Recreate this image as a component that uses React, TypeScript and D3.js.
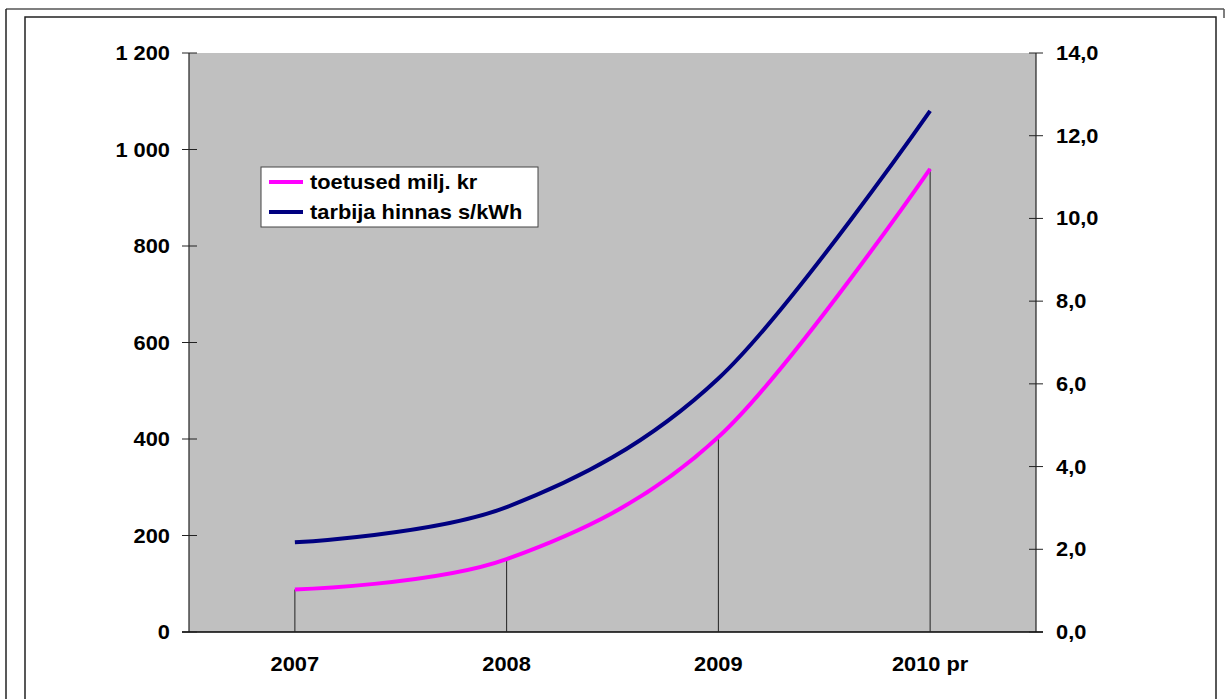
import React from "react";
import * as d3 from "d3";

const categories = ["2007", "2008", "2009", "2010 pr"];
const toetused = [88, 151, 404, 960];
const hinnas = [2.17, 3.02, 6.13, 12.6];
const leftTicks = [0, 200, 400, 600, 800, 1000, 1200];
const rightTicks = [0, 2, 4, 6, 8, 10, 12, 14];
const seriesNames = ["toetused milj. kr", "tarbija hinnas s/kWh"];

const W = 1228;
const H = 699;
const L = 189, R = 1036, T = 53, B = 632;
const FONT = "'Liberation Sans', Arial, sans-serif";
const SX = 1.12;

const textStyle: React.CSSProperties = {
  fontFamily: FONT,
  fontWeight: "bold",
  fontSize: 19.5,
};

function T2({ x, y, anchor, dy, children }: { x: number; y: number; anchor?: string; dy?: string; children: React.ReactNode }) {
  return (
    <text
      transform={`translate(${x},${y}) scale(${SX},1)`}
      dy={dy}
      textAnchor={anchor || "start"}
      style={textStyle}
      fill="#000"
    >
      {children}
    </text>
  );
}

export default function App() {
  const x = d3.scaleBand<string>().domain(categories).range([L, R]);
  const cx = (c: string) => (x(c) as number) + x.bandwidth() / 2;
  const yL = d3.scaleLinear().domain([0, 1200]).range([B, T]);
  const yR = d3.scaleLinear().domain([0, 14]).range([B, T]);
  const fmtL = (v: number) => d3.format(",")(v).replace(/,/g, " ");
  const fmtR = (v: number) => v.toFixed(1).replace(".", ",");

  const curve = d3.curveCatmullRom.alpha(0);
  const pinkLine = d3
    .line<number>()
    .x((_, i) => cx(categories[i]))
    .y((d) => yL(d))
    .curve(curve)(toetused) as string;
  const navyLine = d3
    .line<number>()
    .x((_, i) => cx(categories[i]))
    .y((d) => yR(d))
    .curve(curve)(hinnas) as string;

  return (
    <svg
      width={W}
      height={H}
      style={{ position: "absolute", left: 0, top: 0, background: "#fff" }}
    >
      {/* outer frame */}
      <line x1={6} y1={9} x2={1224} y2={9} stroke="#555" strokeWidth={1.5} />
      <line x1={6} y1={9} x2={6} y2={H} stroke="#222" strokeWidth={1.5} />
      <line x1={1224} y1={9} x2={1224} y2={18} stroke="#555" strokeWidth={1.5} />
      {/* inner frame */}
      <rect x={25} y={17} width={1191} height={H} fill="none" stroke="#222" strokeWidth={1.5} />

      {/* plot area */}
      <rect x={L} y={T} width={R - L} height={B - T} fill="#c0c0c0" />
      <line x1={L} y1={T} x2={L} y2={B} stroke="#222" strokeWidth={1.2} />
      <line x1={R} y1={T} x2={R} y2={B} stroke="#222" strokeWidth={1.2} />
      <line x1={182} y1={B} x2={1043} y2={B} stroke="#000" strokeWidth={1.5} />

      {/* left axis */}
      {leftTicks.map((t) => (
        <g key={"l" + t}>
          <line x1={182} x2={197} y1={yL(t)} y2={yL(t)} stroke="#222" strokeWidth={1} />
          <T2 x={170} y={yL(t)} dy="0.36em" anchor="end">
            {fmtL(t)}
          </T2>
        </g>
      ))}
      {/* right axis */}
      {rightTicks.map((t) => (
        <g key={"r" + t}>
          <line x1={1029} x2={1043} y1={yR(t)} y2={yR(t)} stroke="#222" strokeWidth={1} />
          <T2 x={1056} y={yR(t)} dy="0.36em">
            {fmtR(t)}
          </T2>
        </g>
      ))}
      {/* x labels */}
      {categories.map((c) => (
        <T2 key={c} x={cx(c)} y={671} anchor="middle">
          {c}
        </T2>
      ))}

      {/* drop lines */}
      {toetused.map((v, i) => (
        <line
          key={"d" + i}
          x1={cx(categories[i])}
          x2={cx(categories[i])}
          y1={yL(v)}
          y2={B}
          stroke="#222"
          strokeWidth={1}
        />
      ))}

      {/* series */}
      <path d={navyLine} fill="none" stroke="#000080" strokeWidth={4} />
      <path d={pinkLine} fill="none" stroke="#ff00ff" strokeWidth={4} />

      {/* legend */}
      <rect x={261} y={167} width={277} height={60} fill="#fff" stroke="#444" strokeWidth={1} />
      <line x1={269} x2={303} y1={182} y2={182} stroke="#ff00ff" strokeWidth={4} />
      <line x1={269} x2={303} y1={212} y2={212} stroke="#000080" strokeWidth={4} />
      <T2 x={310} y={182} dy="0.36em">
        {seriesNames[0]}
      </T2>
      <T2 x={310} y={212} dy="0.36em">
        {seriesNames[1]}
      </T2>
    </svg>
  );
}
